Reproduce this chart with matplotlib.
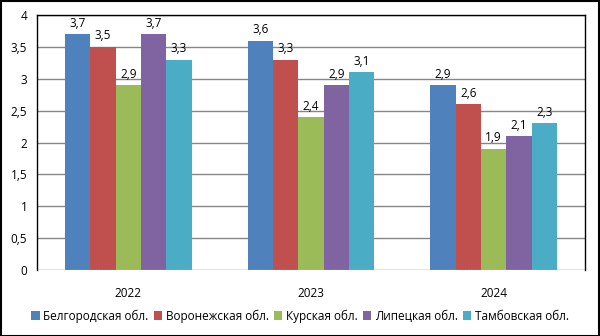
import matplotlib
matplotlib.use("Agg")
import matplotlib.pyplot as plt
import numpy as np
from matplotlib.patches import Rectangle

plt.rcParams['font.family'] = ['Open Sans', 'DejaVu Sans']

years = ['2022', '2023', '2024']
series_names = ['Белгородская обл.', 'Воронежская обл.', 'Курская обл.', 'Липецкая обл.', 'Тамбовская обл.']
belgorod = [3.7, 3.6, 2.9]
voronezh = [3.5, 3.3, 2.6]
kursk = [2.9, 2.4, 1.9]
lipetsk = [3.7, 2.9, 2.1]
tambov = [3.3, 3.1, 2.3]
values = [belgorod, voronezh, kursk, lipetsk, tambov]
colors = ['#4F81BD', '#C0504D', '#9BBB59', '#8064A2', '#4BACC6']
yticks = [0, 0.5, 1, 1.5, 2, 2.5, 3, 3.5, 4]

fs = 8.5
fig = plt.figure(figsize=(6, 3.36), dpi=100)
ax = fig.add_axes([37/600, 1 - 270/336, 548/600, 255/336])

x = np.arange(len(years))
w = 0.139
for i, (vals, c, name) in enumerate(zip(values, colors, series_names)):
    pos = x + (i - 2) * w
    bars = ax.bar(pos, vals, width=w, color=c, label=name, zorder=3)
    for b, v in zip(bars, vals):
        ax.text(b.get_x() + b.get_width()/2, v + 0.07, f"{v:.1f}".replace('.', ','),
                ha='center', va='bottom', fontsize=fs, color='#000000', zorder=4)

ax.set_xlim(-0.5, 2.5)
ax.set_ylim(0, 4)
ax.set_yticks(yticks)
ax.set_yticklabels([f"{t:g}".replace('.', ',') for t in yticks], fontsize=fs)
ax.set_xticks(x)
ax.set_xticklabels(years, fontsize=fs)
ax.tick_params(axis='both', length=0)
ax.tick_params(axis='y', pad=7)
ax.tick_params(axis='x', pad=12)
ax.grid(axis='y', color='#868686', linewidth=1, zorder=1)
ax.axhline(0, color='#BFBFBF', linewidth=1, linestyle=(0, (1, 1)), zorder=5)
for s in ['left', 'top', 'right']:
    ax.spines[s].set_color('black')
    ax.spines[s].set_linewidth(1)
ax.spines['bottom'].set_visible(False)

leg = fig.legend(loc='center', bbox_to_anchor=(0.5, 1 - 316/336), ncol=5, frameon=False,
                 fontsize=fs, handlelength=0.7, handleheight=0.7, handletextpad=0.3,
                 columnspacing=0.45)

fig.patches.append(Rectangle((0.5/600, 0.5/336), 598.5/600, 334.5/336, transform=fig.transFigure,
                             fill=False, edgecolor='black', linewidth=1.5))

fig.savefig('out.png', dpi=100)
